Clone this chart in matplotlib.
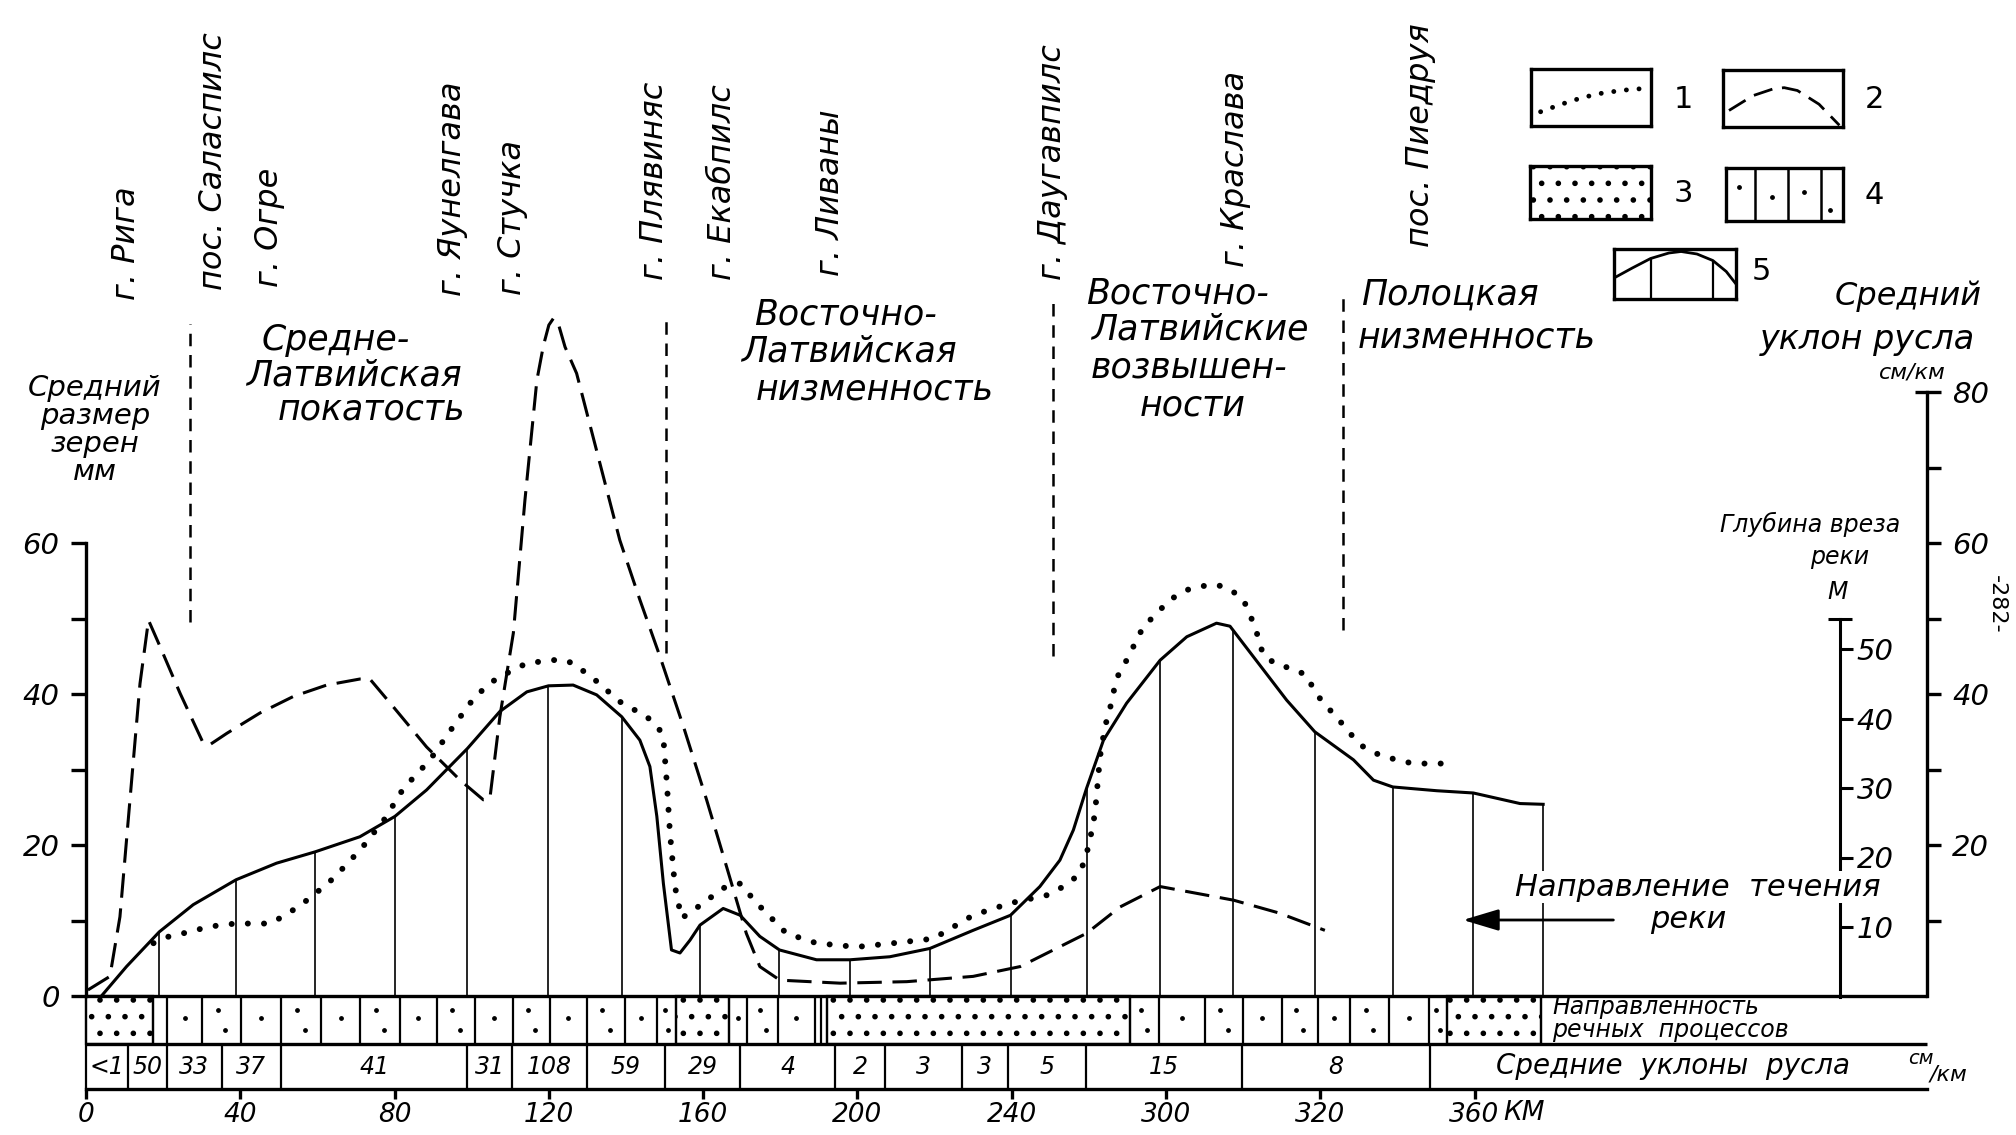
# -*- coding: utf-8 -*-

import matplotlib
matplotlib.use("Agg")
import matplotlib.pyplot as plt
from matplotlib.patches import Rectangle
import numpy as np

plt.rcParams['font.family'] = ['DejaVu Sans']
plt.rcParams['hatch.linewidth'] = 1.6

# Data ########################################################

# 5 - solid curve with vertical lines (glubina vreza), in units of the left scale
depth_km = [4, 10.5, 19, 27.8, 38.9, 49.4, 59.4, 71, 80.1, 88.3, 98.9, 107.3, 114.3, 119.9,
            126.3, 132.4, 138.9, 143.6, 146.2, 148, 149.7, 151.8, 154, 156.6, 159.2, 165.2,
            169.6, 174.7, 179.8, 189.4, 198.1, 208.4, 218.8, 230, 239.7, 247.3, 252.5, 256,
            259.4, 263.8, 269.8, 278.5, 285.4, 293.1, 296.6, 302.6, 311.3, 318.6, 328.6,
            333.8, 338.8, 350.2, 359.7, 371.8, 377.8]
depth_val = [0, 3.9, 8.5, 12.1, 15.4, 17.6, 19.1, 21.1, 23.8, 27.3, 32.8, 37.7, 40.3, 41.1,
             41.2, 39.9, 37, 33.9, 30.4, 23.8, 14.9, 6.1, 5.7, 7.4, 9.4, 11.6,
             10.7, 7.9, 6.1, 4.8, 4.8, 5.2, 6.3, 8.7, 10.7, 14.5, 18, 22,
             27.5, 33.9, 38.8, 44.5, 47.6, 49.4, 49, 45, 39.2, 35, 31.3,
             28.6, 27.7, 27.2, 26.9, 25.5, 25.4]

# 1 - dotted curve (srednij razmer zeren)
grain_km = [17.5, 22, 26.1, 30.5, 34.7, 39, 43.8, 47.7, 52, 56.3, 60, 63.7, 67.5, 71.5, 77.5,
            82.3, 89.2, 95.2, 100.9, 106.5, 114.3, 122.9, 126.3, 132.4, 138.4, 145.4, 148.5,
            149.7, 150.6, 151.4, 152.7, 154.4, 157, 160, 165.2, 169.6, 173.9, 181.6, 189.4,
            199.8, 209.3, 219.7, 230, 239.6, 249.5, 253.4, 257.3, 259, 260.3, 261.6, 262.9,
            264.2, 265.5, 267.2, 269.8, 274.1, 277.6, 281, 285.4, 289.2, 293.1, 296.6, 300.1,
            303.1, 305.2, 308.7, 312.6, 316.5, 318.6, 321.2, 324.2, 327.7, 331.2, 335.5,
            339.8, 344.1, 351.9]
grain_val = [7.0, 8.0, 8.4, 9.0, 9.4, 9.6, 9.6, 9.6, 10.8, 12.3, 13.8, 15.4, 17.4, 19.6, 23.5,
             27.5, 31.3, 35.7, 39.7, 42.1, 44.1, 44.6, 44.1, 41.7, 39, 37, 35.5,
             34.1, 28.2, 21.6, 14.5, 10.3, 11.2, 12.3, 14.3, 14.9, 12.3, 8.3, 7,
             6.5, 7, 7.6, 10.7, 12.3, 13.4, 14.5, 16, 18, 20.7, 24.2, 31.7,
             35.7, 38.1, 42.1, 44.5, 48.9, 50.7, 52.5, 53.8, 54.3, 54.5, 53.9, 52.5,
             48.9, 45.2, 43.9, 43.4, 42.5, 40.3, 38.6, 37, 34.8, 33, 31.9,
             31.3, 30.8, 30.8]

# 2 - long dashed curve (srednij uklon rusla)
slope_km = [0.5, 6.2, 8.8, 11.4, 14, 16.2, 19.2, 24.4, 30.4, 32.1, 36.5, 45.1, 53.8, 62.4, 71,
            73.6, 79.7, 88.3, 97, 103, 104.7, 107.3, 110.8, 113.8, 116.9, 118.6, 120, 121.2,
            122.5, 124.2, 127.2, 138.4, 143.6, 148.8, 154.9, 160.9, 166.1, 171.2, 174.7,
            179.9, 195.5, 212.8, 230, 242.2, 250.8, 259.4, 268.1, 278.5, 288, 297.5, 309.3,
            321.2]
slope_val = [0.8, 2.6, 10.5, 26, 41.4, 49.8, 46.3, 40.1, 33.5, 33.3, 34.8, 37.5, 39.7, 41.2, 42,
             42, 38.3, 33, 28.6, 26, 26.1, 37, 48.1, 65.7, 81.6, 86.2, 88.9, 89.8,
             89, 86, 82.5, 60.4, 52.5, 45, 35.7, 26, 17.1, 8.3, 3.9,
             2.1, 1.7, 1.9, 2.6, 3.9, 6.1, 8.3, 11.8, 14.5, 13.6, 12.7, 11,
             8.7]

# vertical lines under curve 5
vline_km = [19, 38.9, 59.4, 80.1, 98.9, 119.9, 138.9, 159.2, 179.8, 198.1, 218.8, 239.7,
            259.4, 278.5, 297.5, 318.6, 338.8, 359.7, 377.8]

# borders of the physiographic regions (short dashed lines)
region_km = [27, 150.4, 250.8, 325.8]
region_lo = [49.5, 45.4, 45, 48.5]
region_hi = [89, 89.8, 92.3, 92.5]

# strip "Napravlennost' rechnyh processov": S - accumulation, D - erosion, E - empty
proc_edges = [0, 17.4, 21, 30.1, 40.2, 50.5, 60.9, 71.1, 81.4, 91, 100.9, 110.8, 120.2, 129.8,
              139.7, 148, 153, 166.7, 171.5, 179.4, 189, 190.5, 192.2, 270.6, 278.1, 290, 300,
              310, 319.3, 327.7, 337.8, 348.2, 352.9, 377.3]
proc_kind = ['S', 'E'] + ['D'] * 14 + ['S'] + ['D'] * 3 + ['E', 'E'] + ['S'] + ['D'] * 9 + ['S']

# strip "Srednie uklony rusla"
slope_edges = [0, 10.8, 21, 35.2, 50.5, 98.9, 110.5, 129.8, 150.2, 169.5, 194.3, 207.2, 227,
               239, 259.3, 299.6, 348.4]
slope_labels = ['<1', '50', '33', '37', '41', '31', '108', '59', '29', '4', '2', '3', '3', '5',
                '15', '8']

x_ticks = [0, 40, 80, 120, 160, 200, 240, 280, 320, 360]
x_labels = ['0', '40', '80', '120', '160', '200', '240', '300', '320', '360']

town_names = ['г. Рига', 'пос. Саласпилс', 'г. Огре', 'г. Яунелгава', 'г. Стучка',
              'г. Плявиняс', 'г. Екабпилс', 'г. Ливаны', 'г. Даугавпилс', 'г. Краслава',
              'пос. Пиедруя']
town_km = [10.5, 33, 47.5, 95, 110.5, 147.5, 165, 193, 250.7, 298, 346]

# Layout ######################################################

W, H = 2016, 1135
X0, PX = 86, 3.857      # pixel of km 0, pixels per km
Y0, PY = 996, 7.547     # pixel of zero level, pixels per unit
STRIP1 = (Y0 - 1044) / PY
STRIP2 = (Y0 - 1089) / PY
RIGHT_KM = (1927 - X0) / PX
DEPTH_KM = (1840 - X0) / PX
FS = 'italic'
REG = 25   # size of region names


def yval(py):
    return (Y0 - py) / PY


def ftext(x, y, s, size=REG, **kw):
    kw.setdefault('ha', 'left')
    kw.setdefault('va', 'center')
    kw.setdefault('style', FS)
    return fig.text(x / W, 1 - y / H, s, fontsize=size, **kw)


fig = plt.figure(figsize=(W / 100, H / 100), dpi=100, facecolor='white')
ax = fig.add_axes([0, 0, 1, 1])
ax.set_xlim(-X0 / PX, (W - X0) / PX)
ax.set_ylim((Y0 - H) / PY, Y0 / PY)

# left scale and km scale
ax.spines['top'].set_visible(False)
ax.spines['right'].set_visible(False)
ax.spines['left'].set_position(('data', 0))
ax.spines['left'].set_bounds(0, 60)
ax.spines['bottom'].set_position(('data', STRIP2))
ax.spines['bottom'].set_bounds(0, RIGHT_KM)
for s in ['left', 'bottom']:
    ax.spines[s].set_linewidth(2.4)
ax.set_yticks([0, 20, 40, 60], ['0', '20', '40', '60'], fontstyle=FS, fontsize=21)
ax.set_yticks([10, 30, 50], minor=True)
ax.set_xticks(x_ticks, x_labels, fontstyle=FS, fontsize=19)
ax.tick_params(axis='y', which='both', direction='out', length=11, width=2.4, pad=8)
ax.tick_params(axis='x', direction='out', length=7, width=2.4, pad=2)
ax.text(367.5, yval(1113), 'КМ', fontsize=19, style=FS, ha='left', va='center')

# strips
ax.hlines([0, STRIP1], 0, RIGHT_KM, color='k', lw=2.4)
ax.vlines(proc_edges, STRIP1, 0, color='k', lw=1.6)
nd = 0
for a, b, k in zip(proc_edges[:-1], proc_edges[1:], proc_kind):
    if k == 'S':
        ax.add_patch(Rectangle((a, STRIP1), b - a, -STRIP1, facecolor='white',
                               edgecolor='black', hatch='.', lw=1.6))
    elif k == 'D':
        w = b - a
        if nd % 2 == 0:
            ax.scatter([a + 0.5 * w], [STRIP1 * 0.45], s=6, color='k')
        else:
            ax.scatter([a + 0.4 * w, a + 0.6 * w], [STRIP1 * 0.3, STRIP1 * 0.7], s=6, color='k')
        nd += 1
ax.vlines(slope_edges, STRIP2, STRIP1, color='k', lw=1.6)
for a, b, lab in zip(slope_edges[:-1], slope_edges[1:], slope_labels):
    ax.text((a + b) / 2, (STRIP1 + STRIP2) / 2, lab, fontsize=17, style=FS,
            ha='center', va='center')

# curves
ax.plot(depth_km, depth_val, color='k', lw=2.2, solid_joinstyle='round')
tops = np.interp(vline_km, depth_km, depth_val)
ax.vlines(vline_km, 0, tops, color='k', lw=1.2)
ax.plot(grain_km, grain_val, color='k', lw=4.3, linestyle=(0, (0.01, 2.7)),
        dash_capstyle='round')
ax.plot(slope_km, slope_val, color='k', lw=2.2, linestyle=(0, (8, 3.5)))
ax.vlines(region_km, region_lo, region_hi, color='k', lw=1.8, linestyles=[(0, (5, 3.5))])

# direction of the flow
ax.annotate('', xy=(357, yval(920)), xytext=(396, yval(920)),
            arrowprops=dict(arrowstyle='-|>,head_length=1.0,head_width=0.3', color='k',
                            lw=2, mutation_scale=22, shrinkA=0, shrinkB=0))

# right scale: srednij uklon rusla
ax_s = ax.twinx()
ax_s.set_ylim(ax.get_ylim())
for s in ['left', 'top', 'bottom']:
    ax_s.spines[s].set_visible(False)
ax_s.spines['right'].set_position(('data', RIGHT_KM))
ax_s.spines['right'].set_bounds(0, 80)
ax_s.spines['right'].set_linewidth(2.4)
ax_s.set_yticks([20, 40, 60, 80], ['20', '40', '60', '80'], fontstyle=FS, fontsize=21)
ax_s.set_yticks([10, 30, 50, 70], minor=True)
ax_s.tick_params(axis='y', which='both', direction='out', length=10, width=2.4, pad=8)
ax_s.hlines(80, RIGHT_KM - 3, RIGHT_KM, color='k', lw=2.4)

# right scale: glubina vreza
DPY, D0 = 6.95, 996.5
ax_d = ax.twinx()
ax_d.set_ylim((D0 - H) / DPY, D0 / DPY)
for s in ['left', 'top', 'bottom']:
    ax_d.spines[s].set_visible(False)
ax_d.spines['right'].set_position(('data', DEPTH_KM))
ax_d.spines['right'].set_bounds(0, 54.3)
ax_d.spines['right'].set_linewidth(2.2)
ax_d.set_yticks([10, 20, 30, 40, 50], ['10', '20', '30', '40', '50'], fontstyle=FS,
                fontsize=21)
ax_d.tick_params(axis='y', direction='out', length=9, width=2.2, pad=3)
ax_d.hlines(54.3, DEPTH_KM - 3, DEPTH_KM + 3, color='k', lw=2.2)

# town names
town_base = [300, 290, 287, 296, 295, 280, 280, 276, 280, 267, 247]
for name, km, base in zip(town_names, town_km, town_base):
    ax.text(km, yval(base), name, rotation=90, fontsize=23, style=FS,
            ha='center', va='bottom')

# region names and axis captions
ftext(95, 430, 'Средний\nразмер\nзерен\nмм', 21, ha='center', multialignment='center',
      linespacing=1.0)
ftext(262, 340, 'Средне-')
ftext(246, 375, 'Латвийская')
ftext(278, 410, 'покатость')
ftext(754, 314, 'Восточно-')
ftext(741, 352, 'Латвийская')
ftext(756, 390, 'низменность')
ftext(1086, 294, 'Восточно-')
ftext(1091, 330, 'Латвийские')
ftext(1091, 368, 'возвышен-')
ftext(1140, 405, 'ности')
ftext(1361, 295, 'Полоцкая')
ftext(1358, 338, 'низменность')
ftext(1982, 296, 'Средний', 23, ha='right')
ftext(1975, 340, 'уклон русла', 24, ha='right')
ftext(1912, 372, 'см/км', 16, ha='center')
ftext(1810, 524, 'Глубина вреза', 17, ha='center')
ftext(1840, 557, 'реки', 17, ha='center')
ftext(1838, 592, 'М', 17, ha='center')
ftext(1515, 887, 'Направление  течения', 22,
      bbox=dict(facecolor='white', edgecolor='none', pad=1))
ftext(1650, 920, 'реки', 22)
ftext(1997, 604, '-282-', 16, ha='center', rotation=-90, style='normal')
ftext(1552, 1007, 'Направленность', 17)
ftext(1552, 1030, 'речных  процессов', 17)
ftext(1496, 1066, 'Средние  уклоны  русла', 20)
ftext(1908, 1058, 'см', 14)
ftext(1930, 1075, '/км', 16)

# legend ######################################################


def box(x1, y1, x2, y2):
    b = fig.add_axes([x1 / W, 1 - y2 / H, (x2 - x1) / W, (y2 - y1) / H])
    b.set_xlim(0, 1)
    b.set_ylim(0, 1)
    b.set_xticks([])
    b.set_yticks([])
    for s in b.spines.values():
        s.set_linewidth(2.4)
    return b


b1 = box(1531, 69, 1651, 126)
b1.plot([0.08, 0.25, 0.43, 0.6, 0.78, 0.95], [0.25, 0.38, 0.5, 0.58, 0.63, 0.66], color='k',
        lw=3.5, linestyle=(0, (0.01, 2.6)), dash_capstyle='round')
ftext(1674, 100, '1', 22, style='normal')

b2 = box(1723, 70, 1843, 127)
b2.plot([0.05, 0.25, 0.42, 0.51, 0.62, 0.8, 0.97], [0.29, 0.55, 0.67, 0.69, 0.64, 0.4, 0.03],
        color='k', lw=2, linestyle=(0, (7, 3.5)))
ftext(1865, 100, '2', 22, style='normal')

b3 = box(1530, 166, 1651, 219)
b3.add_patch(Rectangle((0, 0), 1, 1, facecolor='white', edgecolor='black', hatch='.', lw=0))
ftext(1674, 193, '3', 22, style='normal')

b4 = box(1726, 168, 1843, 221)
b4.vlines([0.25, 0.53, 0.81], 0, 1, color='k', lw=1.8)
b4.scatter([0.11, 0.39, 0.67, 0.89], [0.65, 0.46, 0.55, 0.2], s=6, color='k')
ftext(1865, 195, '4', 22, style='normal')

b5 = box(1614, 249, 1736, 299)
b5.plot([0, 0.15, 0.3, 0.45, 0.55, 0.68, 0.81, 0.92, 1.0], [0.42, 0.62, 0.81, 0.92, 0.95, 0.9,
        0.77, 0.55, 0.3], color='k', lw=2)
b5.vlines([0.3, 0.81], 0, [0.81, 0.77], color='k', lw=1.6)
ftext(1752, 272, '5', 22, style='normal')

fig.savefig('out.png', dpi=100, facecolor='white')
